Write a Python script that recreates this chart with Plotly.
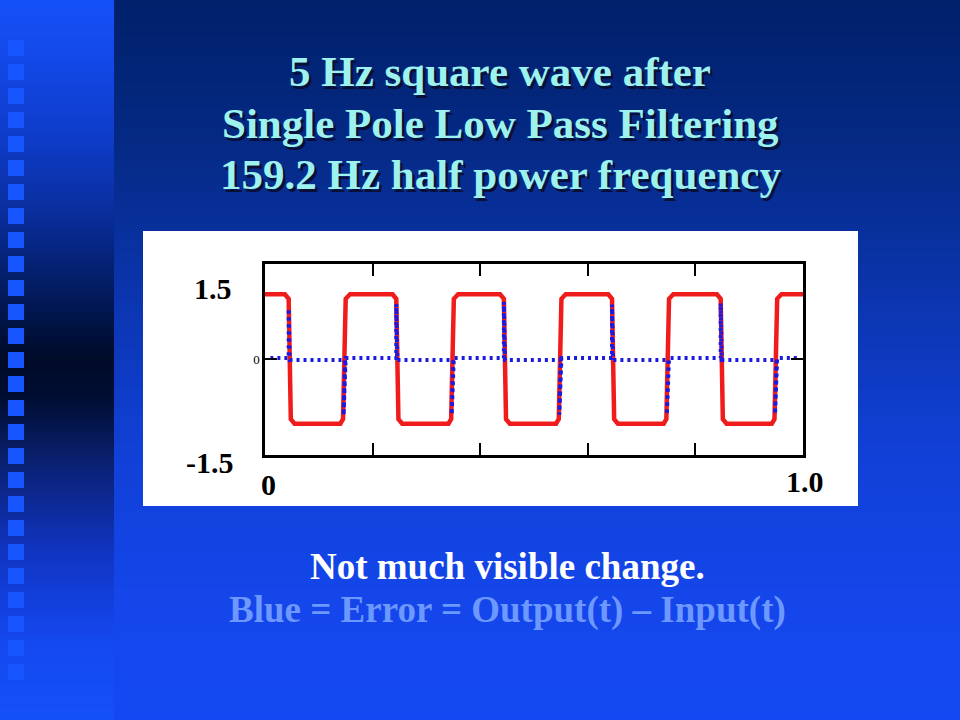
import plotly.graph_objects as go

# ---------------- data ----------------
# filtered 5 Hz square wave (output), time in seconds
red_t = [0.000,
         0.037, 0.044, 0.048, 0.055, 0.140, 0.145, 0.150, 0.158,
         0.237, 0.244, 0.248, 0.255, 0.341, 0.346, 0.351, 0.359,
         0.437, 0.444, 0.448, 0.455, 0.541, 0.546, 0.551, 0.559,
         0.638, 0.645, 0.649, 0.656, 0.741, 0.746, 0.751, 0.759,
         0.840, 0.847, 0.851, 0.858, 0.942, 0.947, 0.952, 0.960,
         1.000]
red_v = [1.00,
         1.00, 0.93, -0.93, -1.00, -1.00, -0.93, 0.93, 1.00,
         1.00, 0.93, -0.93, -1.00, -1.00, -0.93, 0.93, 1.00,
         1.00, 0.93, -0.93, -1.00, -1.00, -0.93, 0.93, 1.00,
         1.00, 0.93, -0.93, -1.00, -1.00, -0.93, 0.93, 1.00,
         1.00, 0.93, -0.93, -1.00, -1.00, -0.93, 0.93, 1.00,
         1.00]

# error = output(t) - input(t)
err_t = [0.010,
         0.044, 0.044, 0.046, 0.149, 0.146, 0.150,
         0.244, 0.244, 0.246, 0.350, 0.347, 0.351,
         0.444, 0.444, 0.446, 0.550, 0.547, 0.551,
         0.645, 0.645, 0.647, 0.750, 0.747, 0.751,
         0.847, 0.847, 0.849, 0.951, 0.948, 0.952,
         0.990]
err_v = [0.015,
         0.015, 0.78, -0.015, -0.015, -0.87, 0.015,
         0.015, 0.85, -0.015, -0.015, -0.86, 0.015,
         0.015, 0.88, -0.015, -0.015, -0.86, 0.015,
         0.015, 0.84, -0.015, -0.015, -0.86, 0.015,
         0.015, 0.86, -0.015, -0.015, -0.85, 0.015,
         0.015]

x_tick_vals = [0.2, 0.4, 0.6, 0.8]
y_tick_vals = [0]
y_tick_text = ["0"]

title_lines = ["5 Hz square wave after",
               "Single Pole Low Pass Filtering",
               "159.2 Hz half power frequency"]
caption_lines = ["Not much visible change.",
                 "Blue = Error = Output(t) \u2013 Input(t)"]
y_end_labels = ["1.5", "-1.5"]
x_end_labels = ["0", "1.0"]

# ---------------- layout geometry (pixels) ----------------
W, H = 960, 720
L, R, T, B = 265, 803, 264, 455


def px(x):
    return (x - L) / (R - L)


def py(y):
    return (B - y) / (B - T)


def hex2rgb(h):
    h = h.lstrip("#")
    return tuple(int(h[i:i + 2], 16) for i in (0, 2, 4))


def grad(stops, y):
    for (y0, c0), (y1, c1) in zip(stops, stops[1:]):
        if y0 <= y <= y1:
            f = (y - y0) / (y1 - y0) if y1 > y0 else 0
            a, b = hex2rgb(c0), hex2rgb(c1)
            return "rgb(%d,%d,%d)" % tuple(round(a[i] + (b[i] - a[i]) * f) for i in range(3))
    return stops[-1][1]


main_stops = [(0, "#00206a"), (150, "#052a86"), (300, "#0b35b0"),
              (450, "#1140d6"), (600, "#1446ea"), (720, "#1448f2")]
strip_stops = [(0, "#1450f8"), (60, "#1348e8"), (140, "#0e3cc8"),
               (230, "#082a90"), (320, "#001448"), (360, "#000a28"),
               (400, "#000e34"), (460, "#0a2070"), (550, "#1034c0"),
               (640, "#1448f0"), (720, "#1450f8")]

shapes = []
band = 6
for y0 in range(0, H, band):
    ym = y0 + band / 2
    shapes.append(dict(type="rect", xref="paper", yref="paper", layer="below",
                       x0=px(114), x1=px(W), y0=py(y0 + band + 0.5), y1=py(y0),
                       fillcolor=grad(main_stops, ym), line=dict(width=0)))
    shapes.append(dict(type="rect", xref="paper", yref="paper", layer="below",
                       x0=px(0), x1=px(114), y0=py(y0 + band + 0.5), y1=py(y0),
                       fillcolor=grad(strip_stops, ym), line=dict(width=0)))
# decorative squares on the left strip
for k in range(27):
    y0 = 40 + 24 * k
    shapes.append(dict(type="rect", xref="paper", yref="paper", layer="below",
                       x0=px(8), x1=px(24), y0=py(y0 + 16), y1=py(y0),
                       fillcolor="#1755ff", line=dict(width=0)))
# white chart panel
shapes.append(dict(type="rect", xref="paper", yref="paper", layer="below",
                   x0=px(143), x1=px(858), y0=py(506), y1=py(231),
                   fillcolor="white", line=dict(width=0)))

fig = go.Figure()
fig.add_trace(go.Scatter(x=red_t, y=red_v, mode="lines",
                         line=dict(color="#f01c1c", width=4.5),
                         hoverinfo="skip", showlegend=False))
fig.add_trace(go.Scatter(x=err_t, y=err_v, mode="lines",
                         line=dict(color="#1a1ae0", width=4, dash="3px,4px"),
                         hoverinfo="skip", showlegend=False))

ann = []
serif = "Liberation Serif"
title_y = [72, 123, 174]
for txt, yy in zip(title_lines, title_y):
    ann.append(dict(text=txt, x=px(500), y=py(yy), xref="paper", yref="paper",
                    xanchor="center", yanchor="middle", showarrow=False,
                    font=dict(family=serif, size=43, color="#9ef2ee", weight="bold",
                              shadow="2.5px 2.5px 0.5px #0a0f35")))
cap_y = [566, 610]
cap_col = ["#ffffff", "#6c98ff"]
for txt, yy, col in zip(caption_lines, cap_y, cap_col):
    ann.append(dict(text=txt, x=px(507), y=py(yy), xref="paper", yref="paper",
                    xanchor="center", yanchor="middle", showarrow=False,
                    font=dict(family=serif, size=37, color=col, weight="bold")))
for txt, xx, yy in zip(y_end_labels, [234, 236], [288, 462]):
    ann.append(dict(text=txt, x=px(xx), y=py(yy), xref="paper", yref="paper",
                    xanchor="right", yanchor="middle", showarrow=False,
                    font=dict(family=serif, size=30, color="black", weight="bold")))
for txt, xx, yy in zip(x_end_labels, [268, 805], [484, 481]):
    ann.append(dict(text=txt, x=px(xx), y=py(yy), xref="paper", yref="paper",
                    xanchor="center", yanchor="middle", showarrow=False,
                    font=dict(family=serif, size=30, color="black", weight="bold")))

fig.update_layout(
    width=W, height=H,
    margin=dict(l=L, r=W - R, t=T, b=H - B, pad=0),
    paper_bgcolor="#0a2a80", plot_bgcolor="white",
    shapes=shapes, annotations=ann, showlegend=False,
    xaxis=dict(range=[0, 1], showgrid=False, zeroline=False,
               showline=True, linecolor="black", linewidth=2.5, mirror="ticks",
               ticks="inside", tickvals=x_tick_vals, ticklen=12, tickwidth=2,
               tickcolor="black", showticklabels=False, fixedrange=True),
    yaxis=dict(range=[-1.484, 1.468], showgrid=False, zeroline=False,
               showline=True, linecolor="black", linewidth=2.5, mirror="ticks",
               ticks="inside", tickvals=y_tick_vals, ticktext=y_tick_text,
               ticklen=12, tickwidth=2, tickcolor="black",
               tickfont=dict(family=serif, size=13, color="black"),
               fixedrange=True),
)

fig.write_html("out.html", config=dict(displayModeBar=False),
               post_script="document.body.style.margin='0';")
